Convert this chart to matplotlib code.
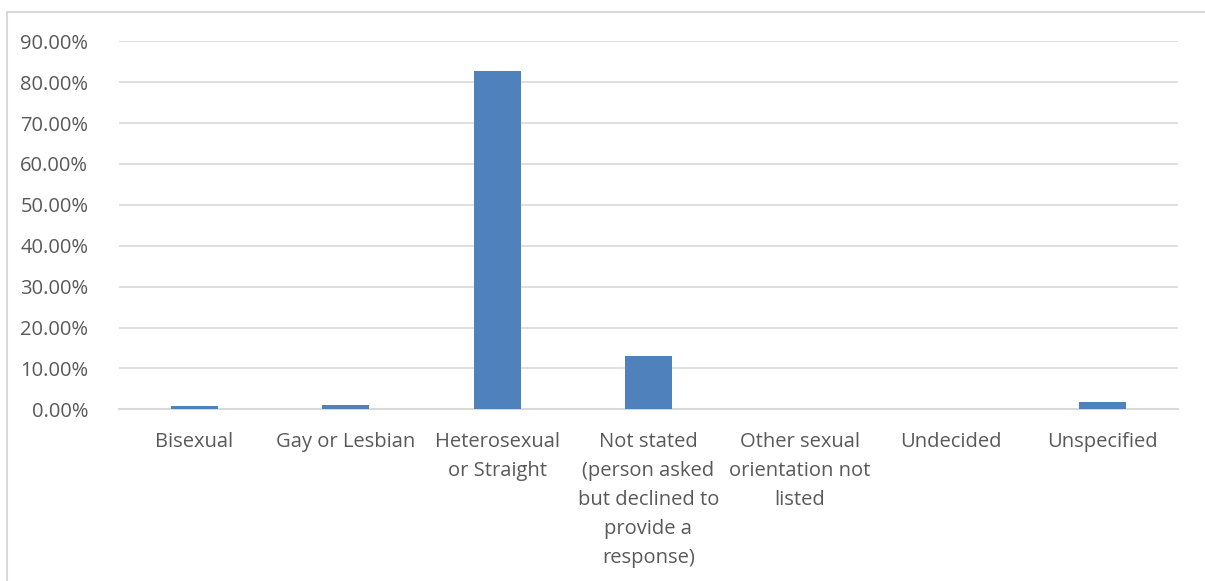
import matplotlib
matplotlib.use("Agg")
import matplotlib.pyplot as plt
from matplotlib.patches import Rectangle
from matplotlib.ticker import FuncFormatter

categories = [
    "Bisexual",
    "Gay or Lesbian",
    "Heterosexual\nor Straight",
    "Not stated\n(person asked\nbut declined to\nprovide a\nresponse)",
    "Other sexual\norientation not\nlisted",
    "Undecided",
    "Unspecified",
]
shares = [0.007, 0.010, 0.8283, 0.1307, 0.0, 0.0, 0.019]
y_ticks = [0.0, 0.1, 0.2, 0.3, 0.4, 0.5, 0.6, 0.7, 0.8, 0.9]

plt.rcParams['font.family'] = ['Open Sans', 'DejaVu Sans']
text_color = '#595959'
grid_color = '#d9d9d9'
bar_color = '#4f81bd'

fig = plt.figure(figsize=(12.05, 5.81), dpi=100)
ax = fig.add_axes([0.0986, 0.2955, 0.879, 0.6335])

# chart border (light grey frame, cut at right/bottom like the source)
fig.patches.append(Rectangle((7 / 1205, -0.05), 1.2, 1 - 12 / 581 + 0.05,
                             transform=fig.transFigure, fill=False,
                             edgecolor=grid_color, linewidth=1.5))

x = range(len(categories))
ax.bar(x, shares, width=0.31, color=bar_color, linewidth=0, zorder=3)

ax.set_xlim(-0.5, len(categories) - 0.5)
ax.set_ylim(0, 0.9)
ax.set_yticks(y_ticks)
ax.yaxis.set_major_formatter(FuncFormatter(lambda v, p: f"{v * 100:.2f}%"))
ax.set_xticks(list(x))
ax.set_xticklabels(categories, linespacing=1.6, va='top')

ax.grid(axis='y', color=grid_color, linewidth=1.2, zorder=0)
for side in ['top', 'right', 'left']:
    ax.spines[side].set_visible(False)
ax.spines['bottom'].set_color(grid_color)
ax.spines['bottom'].set_linewidth(1.5)
ax.spines['bottom'].set_zorder(2)

ax.tick_params(axis='both', length=0, labelsize=14.5, colors=text_color)
ax.tick_params(axis='y', pad=22)
ax.tick_params(axis='x', pad=16)

fig.savefig("out.png", dpi=100)
